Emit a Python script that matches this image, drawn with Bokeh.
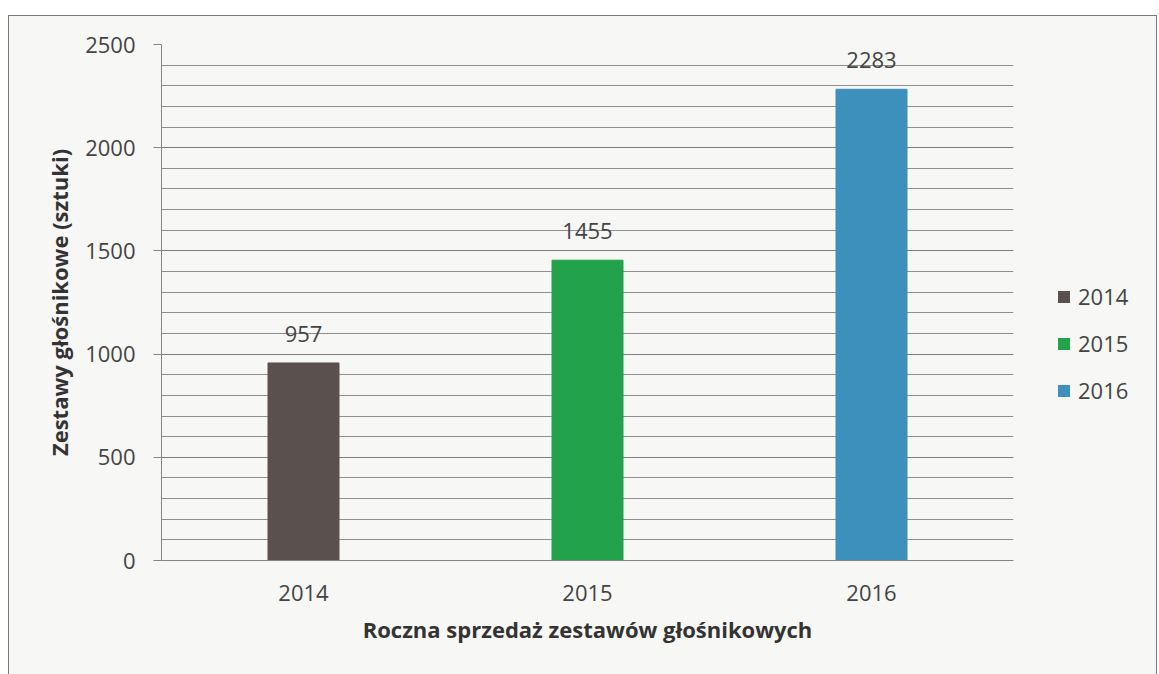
from bokeh.plotting import figure
from bokeh.layouts import row
from bokeh.models import ColumnDataSource, Range1d, FactorRange, LabelSet, Legend, LegendItem, SingleIntervalTicker
from bokeh.embed import file_html
from bokeh.resources import INLINE
from bokeh.core.properties import value

years = ["2014", "2015", "2016"]
sales = [957, 1455, 2283]
colors = ["#5a504e", "#22a24b", "#3d8fbc"]
x_title = "Roczna sprzedaż zestawów głośnikowych"
y_title = "Zestawy głośnikowe (sztuki)"

FONT = "Open Sans"
BG = "#f7f7f5"

src = ColumnDataSource(dict(year=years, sales=sales, color=colors, label=[str(v) for v in sales]))

p = figure(x_range=FactorRange(*years, range_padding=0), y_range=Range1d(0, 2500),
           width=1024, height=658, output_backend="svg", toolbar_location=None,
           min_border_left=152, min_border_right=20, min_border_top=28, min_border_bottom=114)
p.background_fill_color = BG
p.border_fill_color = BG
p.outline_line_color = None

r = p.vbar(x="year", top="sales", width=0.25, source=src, fill_color="color",
           line_color="color", line_width=1)

labels = LabelSet(x="year", y="sales", text="label", source=src, text_align="center",
                  text_baseline="bottom", y_offset=21, text_font=value(FONT),
                  text_font_size="22px", text_color="#444444")
p.add_layout(labels)

# axes
p.yaxis.ticker = SingleIntervalTicker(interval=500, num_minor_ticks=5)
p.yaxis.axis_line_color = "#858585"
p.yaxis.major_tick_line_color = "#858585"
p.yaxis.major_tick_out = 8
p.yaxis.major_tick_in = 0
p.yaxis.minor_tick_line_color = None
p.yaxis.major_label_standoff = 18
p.yaxis.major_label_text_font = FONT
p.yaxis.major_label_text_font_size = "22px"
p.yaxis.major_label_text_color = "#444444"
p.yaxis.axis_label = y_title
p.yaxis.axis_label_text_font = FONT
p.yaxis.axis_label_text_font_style = "bold"
p.yaxis.axis_label_text_font_size = "22px"
p.yaxis.axis_label_text_color = "#333333"
p.yaxis.axis_label_standoff = 8

p.xaxis.axis_line_color = "#858585"
p.xaxis.major_tick_line_color = None
p.xaxis.minor_tick_line_color = None
p.xaxis.major_label_standoff = 18
p.xaxis.major_label_text_font = FONT
p.xaxis.major_label_text_font_size = "22px"
p.xaxis.major_label_text_color = "#444444"
p.xaxis.axis_label = x_title
p.xaxis.axis_label_text_font = FONT
p.xaxis.axis_label_text_font_style = "bold"
p.xaxis.axis_label_text_font_size = "22px"
p.xaxis.axis_label_text_color = "#333333"
p.xaxis.axis_label_standoff = 10

p.xgrid.grid_line_color = None
p.ygrid.grid_line_color = "#7d7d7d"
p.ygrid.grid_line_width = 1.2
p.ygrid.minor_grid_line_color = "#8f8f8f"
p.ygrid.minor_grid_line_width = 1

# legend panel (separate figure to the right of the plot area)
lf = figure(x_range=FactorRange(*years), y_range=Range1d(5000, 6000),
            width=123, height=658, output_backend="svg", toolbar_location=None,
            min_border=0)
lf.xaxis.visible = False
lf.yaxis.visible = False
lf.grid.visible = False
lf.outline_line_color = None
lf.background_fill_color = BG
lf.border_fill_color = BG
lr = lf.vbar(x="year", top="sales", width=0.25, source=src, fill_color="color",
             line_color=None)
lr.visible = False

items = [LegendItem(label=y, renderers=[lr], index=i) for i, y in enumerate(years)]
legend = Legend(items=items, location=(23, 155), orientation="vertical",
                glyph_width=15, glyph_height=15, label_height=30, spacing=17,
                label_standoff=7, padding=0, margin=0,
                label_text_font=FONT, label_text_font_size="22px", label_text_color="#444444",
                background_fill_alpha=0, border_line_color=None)
lf.add_layout(legend)

layout = row(p, lf, spacing=0)
layout.styles = {"border-top": "1px solid #7a7a7a", "border-left": "1px solid #7a7a7a",
                 "border-right": "1px solid #7a7a7a", "margin-top": "15px", "margin-left": "8px",
                 "background-color": BG}

open("out.html", "w").write(file_html(layout, INLINE))
